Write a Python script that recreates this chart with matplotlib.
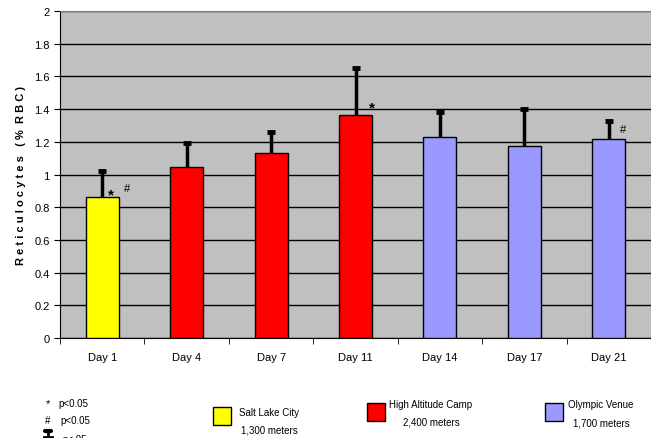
import matplotlib.pyplot as plt
from matplotlib.lines import Line2D
import numpy as np

plt.rcParams['font.family'] = ['Liberation Sans', 'DejaVu Sans']

# data
days = ['Day 1', 'Day 4', 'Day 7', 'Day 11', 'Day 14', 'Day 17', 'Day 21']
means = [0.86, 1.045, 1.13, 1.365, 1.23, 1.175, 1.215]
errs = [0.16, 0.145, 0.13, 0.285, 0.15, 0.225, 0.115]
sites = ['slc', 'camp', 'camp', 'camp', 'venue', 'venue', 'venue']
site_colors = {'slc': '#FFFF00', 'camp': '#FF0000', 'venue': '#9999FF'}

fig = plt.figure(figsize=(6.51, 4.39), dpi=100)
ax = fig.add_axes([60 / 651, 1 - 339 / 439, 591 / 651, 327 / 439])
ax.set_facecolor('#C0C0C0')

x = np.arange(len(days))
colors = [site_colors[s] for s in sites]
ax.bar(x, means, width=0.39, color=colors, edgecolor='black', linewidth=1, zorder=3)
eb = ax.errorbar(x, means, yerr=[np.zeros(len(errs)), errs], fmt='none', ecolor='black',
                 elinewidth=2.5, capsize=3, capthick=3.5, zorder=4)
# keep only the upper caps
eb[1][0].set_visible(False)

# significance marks
ax.text(0.107, 0.88, '*', fontsize=11, fontweight='bold', ha='center', va='center')
ax.text(0.30, 0.92, '#', fontsize=8, ha='center', va='center')
ax.text(3.195, 1.41, '*', fontsize=11, fontweight='bold', ha='center', va='center')
ax.text(6.17, 1.28, '#', fontsize=8, ha='center', va='center')

ax.set_xlim(-0.5, len(days) - 0.5)
ax.set_ylim(0, 2)
ax.set_yticks(np.arange(0, 2.01, 0.2))
ax.set_yticklabels(['0', '0.2', '0.4', '0.6', '0.8', '1', '1.2', '1.4', '1.6', '1.8', '2'], fontsize=8)
ax.yaxis.grid(True, color='black', linewidth=1, zorder=0)
ax.set_axisbelow(True)
ax.set_xticks(x)
ax.set_xticklabels(days, fontsize=8)
ax.set_xticks(np.arange(-0.5, len(days)), minor=True)
ax.tick_params(axis='x', which='major', length=0, pad=10)
ax.tick_params(axis='x', which='minor', length=4, direction='out')
ax.tick_params(axis='y', length=4, direction='out', labelsize=8)
ax.set_ylabel('R e t i c u l o c y t e s   ( %  R B C )', fontsize=8, fontweight='bold', labelpad=6)
for s in ['top', 'right']:
    ax.spines[s].set_color('#808080')
ax.spines['left'].set_color('black')
ax.spines['bottom'].set_color('black')

# footnotes
fig.text(48 / 651, 1 - 404 / 439, '*', fontsize=8, ha='center', va='center')
fig.text(58 / 651, 1 - 404 / 439, 'p<0.05', fontsize=7, va='center')
fig.text(48 / 651, 1 - 421 / 439, '#', fontsize=7, ha='center', va='center')
fig.text(60 / 651, 1 - 421 / 439, 'p<0.05', fontsize=7, va='center')
fig.lines.append(Line2D([48 / 651, 48 / 651], [1 - 432 / 439, 0], transform=fig.transFigure,
                        color='black', linewidth=2))
fig.lines.append(Line2D([45 / 651, 51 / 651], [1 - 432 / 439, 1 - 432 / 439], transform=fig.transFigure,
                        color='black', linewidth=3, solid_capstyle='round'))
fig.lines.append(Line2D([44 / 651, 52 / 651], [1 - 438 / 439, 1 - 438 / 439], transform=fig.transFigure,
                        color='black', linewidth=2))
fig.text(62 / 651, 1 - 440 / 439, 'p<.05', fontsize=7, va='center')

# legend boxes: box left, box top, text center, line 1 y, line 2 y
legend_items = [
    ('slc', 'Salt Lake City', '1,300 meters', 213, 408, 269, 413, 431),
    ('camp', 'High Altitude Camp', '2,400 meters', 367, 404, 431, 405, 423),
    ('venue', 'Olympic Venue', '1,700 meters', 545, 404, 601, 405, 424),
]
for key, name, alt, bx, by, tx, ty1, ty2 in legend_items:
    fig.patches.append(plt.Rectangle((bx / 651, 1 - (by + 18) / 439), 18 / 651, 18 / 439,
                                     transform=fig.transFigure, facecolor=site_colors[key],
                                     edgecolor='black', linewidth=1))
    fig.text(tx / 651, 1 - ty1 / 439, name, fontsize=7, ha='center', va='center')
    fig.text(tx / 651, 1 - ty2 / 439, alt, fontsize=7, ha='center', va='center')

fig.savefig('out.png', dpi=100)
